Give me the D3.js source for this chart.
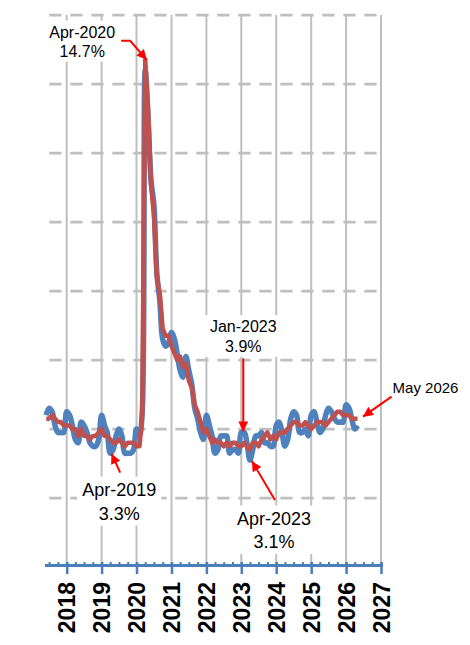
<!DOCTYPE html>
<html>
<head>
<meta charset="utf-8">
<script src="https://cdn.jsdelivr.net/npm/d3@7"></script>
<style>
  html, body { margin: 0; padding: 0; background: #fff; }
  svg { display: block; font-family: "Liberation Sans", Arial, sans-serif; }
</style>
</head>
<body>
<div id="chart"></div>
<script>
// Monthly unemployment rate (%), first value is June 2017
const firstMonth = new Date(2017, 5, 1);

// blue line, not seasonally adjusted
const rateNSA = [
  4.4, 4.6, 4.5, 4.1, 3.9, 3.9, 3.9,
  4.5, 4.4, 4.1, 3.7, 3.6, 4.2, 4.1, 3.9, 3.6, 3.5, 3.5, 3.7,
  4.4, 4.1, 3.9, 3.3, 3.4, 3.8, 4.0, 3.8, 3.3, 3.3, 3.3, 3.4,
  4.0, 3.8, 4.5, 14.4, 13.0, 11.2, 10.5, 8.5, 7.7, 6.6, 6.4, 6.5,
  6.8, 6.6, 6.2, 5.7, 5.5, 6.1, 5.7, 5.3, 4.6, 4.3, 3.9, 3.7,
  4.4, 4.1, 3.8, 3.3, 3.4, 3.8, 3.8, 3.8, 3.3, 3.4, 3.4, 3.3,
  3.9, 3.9, 3.6, 3.1, 3.4, 3.8, 3.8, 3.9, 3.6, 3.6, 3.5, 3.5,
  4.1, 4.2, 3.9, 3.5, 3.7, 4.3, 4.5, 4.4, 3.9, 3.9, 4.0, 3.8,
  4.4, 4.5, 4.2, 3.9, 4.0, 4.4, 4.6, 4.5, 4.3, 4.2, 4.2, 4.2,
  4.7, 4.6, 4.3, 4.0, 4.1
];

// red line, seasonally adjusted
const rateSA = [
  4.3, 4.3, 4.4, 4.3, 4.2, 4.2, 4.1,
  4.1, 4.1, 4.0, 4.0, 3.8, 4.0, 3.8, 3.8, 3.7, 3.8, 3.8, 3.9,
  4.0, 3.8, 3.8, 3.7, 3.6, 3.6, 3.7, 3.6, 3.5, 3.6, 3.6, 3.6,
  3.5, 3.5, 4.4, 14.7, 13.3, 11.1, 10.2, 8.4, 7.9, 6.9, 6.7, 6.7,
  6.4, 6.2, 6.0, 6.1, 5.8, 5.9, 5.4, 5.2, 4.7, 4.5, 4.2, 3.9,
  4.0, 3.8, 3.6, 3.7, 3.6, 3.6, 3.5, 3.6, 3.5, 3.6, 3.6, 3.5,
  3.5, 3.6, 3.5, 3.4, 3.6, 3.6, 3.5, 3.7, 3.8, 3.9, 3.7, 3.8,
  3.7, 3.9, 3.9, 3.9, 4.0, 4.1, 4.2, 4.2, 4.1, 4.1, 4.2, 4.1,
  4.0, 4.1, 4.2, 4.2, 4.2, 4.1, 4.2, 4.3, 4.4, 4.5, 4.5, 4.4,
  4.4, 4.4, 4.3, 4.3, 4.3
];

const yearTicks = d3.range(2018, 2028);
const gridValues = [2, 4, 6, 8, 10, 12, 14, 16];

const callouts = [
  { key: "peak",   date: new Date(2020, 3, 1), value: 14.7, lines: ["Apr-2020", "14.7%"] },
  { key: "low19",  date: new Date(2019, 3, 1), value: 3.3,  lines: ["Apr-2019", "3.3%"] },
  { key: "jan23",  date: new Date(2023, 0, 1), value: 3.9,  lines: ["Jan-2023", "3.9%"] },
  { key: "low23",  date: new Date(2023, 3, 1), value: 3.1,  lines: ["Apr-2023", "3.1%"] },
  { key: "latest", date: new Date(2026, 4, 1), value: 4.3,  lines: ["May 2026"] }
];

// where each label and its arrow sit, relative to the marked point
const calloutLayout = {
  peak:   { lx: -63, ly: -28, gap: 19, size: 16, anchor: "middle", path: [[-24, -19], [-15, -19], [1.5, 0]] },
  low19:  { lx: 9,   ly: 36,  gap: 24, size: 18, anchor: "middle", path: [[10, 19.5], [1.3, 0.5]] },
  jan23:  { lx: 2,   ly: -106, gap: 19.5, size: 16, anchor: "middle", path: [[2, -74], [2, -1]] },
  low23:  { lx: 24,  ly: 58,  gap: 23.5, size: 18, anchor: "middle", path: [[25, 40], [2, 1]] },
  latest: { lx: 35,  ly: -31, gap: 0,  size: 15, anchor: "start",  path: [[34, -22], [5.4, -2]] }
};

const width = 470, height = 645;
const plot = { left: 45, right: 381, top: 15, bottom: 567 };

const toSeries = vals => vals.map((v, i) => ({ date: d3.timeMonth.offset(firstMonth, i), value: v }));
const nsa = toSeries(rateNSA);
const sa = toSeries(rateSA);

const x = d3.scaleTime()
  .domain([d3.timeDay.offset(firstMonth, -13), new Date(2027, 0, 1)])
  .range([plot.left, plot.right]);

const y = d3.scaleLinear()
  .domain([0, 16])
  .range([plot.bottom, plot.top]);

const svg = d3.select("#chart").append("svg")
  .attr("width", width)
  .attr("height", height);

// ---- grid ----
svg.append("g")
  .selectAll("line")
  .data(gridValues)
  .join("line")
  .attr("x1", plot.left + 4.3)
  .attr("x2", plot.right)
  .attr("y1", d => y(d))
  .attr("y2", d => y(d))
  .attr("stroke", "#bfbfbf")
  .attr("stroke-width", 2.75)
  .attr("stroke-dasharray", "12.3 8.7");

svg.append("g")
  .selectAll("line")
  .data(yearTicks)
  .join("line")
  .attr("x1", d => x(new Date(d, 0, 1)))
  .attr("x2", d => x(new Date(d, 0, 1)))
  .attr("y1", y(16))
  .attr("y2", y(0))
  .attr("stroke", "#bfbfbf")
  .attr("stroke-width", 2);

// ---- x axis ----
const axisBlue = "#4a7ebb";
const axisY = plot.bottom - 5;

svg.append("g")
  .attr("transform", `translate(0,${axisY})`)
  .call(d3.axisBottom(x).ticks(d3.timeMonth.every(3)).tickSize(4).tickFormat(""))
  .call(g => g.select(".domain").remove())
  .call(g => g.selectAll(".tick line").attr("stroke", axisBlue).attr("stroke-width", 2));

svg.append("line")
  .attr("x1", plot.left)
  .attr("x2", plot.right + 2)
  .attr("y1", plot.bottom - 1.5)
  .attr("y2", plot.bottom - 1.5)
  .attr("stroke", axisBlue)
  .attr("stroke-width", 3);

svg.append("g")
  .attr("transform", `translate(0,${axisY})`)
  .call(d3.axisBottom(x)
    .tickValues(yearTicks.map(yr => new Date(yr, 0, 1)))
    .tickSize(12)
    .tickFormat(d3.timeFormat("%Y")))
  .call(g => g.select(".domain").remove())
  .call(g => g.selectAll(".tick line").attr("stroke", axisBlue).attr("stroke-width", 2.5))
  .call(g => g.selectAll(".tick text")
    .attr("transform", "rotate(-90)")
    .attr("x", -20)
    .attr("y", 0)
    .attr("dy", "0.36em")
    .attr("text-anchor", "end")
    .attr("font-family", "'Liberation Sans', Arial, sans-serif")
    .attr("font-size", 23)
    .attr("font-weight", "bold")
    .attr("fill", "#000"));

// ---- series ----
const lineNSA = d3.line()
  .x(d => x(d.date))
  .y(d => y(d.value))
  .curve(d3.curveCatmullRom.alpha(0.5));

const lineSA = d3.line()
  .x(d => x(d.date))
  .y(d => y(d.value));

svg.append("path")
  .datum(nsa)
  .attr("d", lineNSA)
  .attr("fill", "none")
  .attr("stroke", "#4f81bd")
  .attr("stroke-width", 5.5)
  .attr("stroke-linejoin", "round");

svg.append("path")
  .datum(sa)
  .attr("d", lineSA)
  .attr("fill", "none")
  .attr("stroke", "#c0504d")
  .attr("stroke-width", 4.5)
  .attr("stroke-linejoin", "round");

// ---- callouts ----
svg.append("defs").append("marker")
  .attr("id", "arrowHead")
  .attr("viewBox", "0 0 10 10")
  .attr("refX", 10)
  .attr("refY", 5)
  .attr("markerWidth", 11)
  .attr("markerHeight", 10)
  .attr("markerUnits", "userSpaceOnUse")
  .attr("orient", "auto")
  .append("path")
  .attr("d", "M0,0L10,5L0,10Z")
  .attr("fill", "#ff0000");

callouts.forEach(c => {
  const lay = calloutLayout[c.key];
  const px = x(c.date), py = y(c.value);
  const g = svg.append("g");
  const box = g.append("rect").attr("fill", "#fff");
  const text = g.append("text")
    .attr("font-size", lay.size)
    .attr("fill", "#000")
    .attr("text-anchor", lay.anchor);
  c.lines.forEach((ln, i) => {
    text.append("tspan")
      .attr("x", px + lay.lx)
      .attr("y", py + lay.ly + i * lay.gap + 0.36 * lay.size)
      .text(ln);
  });
  const bb = text.node().getBBox();
  box.attr("x", bb.x - 5).attr("y", bb.y - 3)
    .attr("width", bb.width + 10).attr("height", bb.height + 5);

  svg.append("path")
    .attr("d", d3.line()(lay.path.map(([dx, dy]) => [px + dx, py + dy])))
    .attr("fill", "none")
    .attr("stroke", "#ff0000")
    .attr("stroke-width", 2)
    .attr("marker-end", "url(#arrowHead)");
});
</script>
</body>
</html>
